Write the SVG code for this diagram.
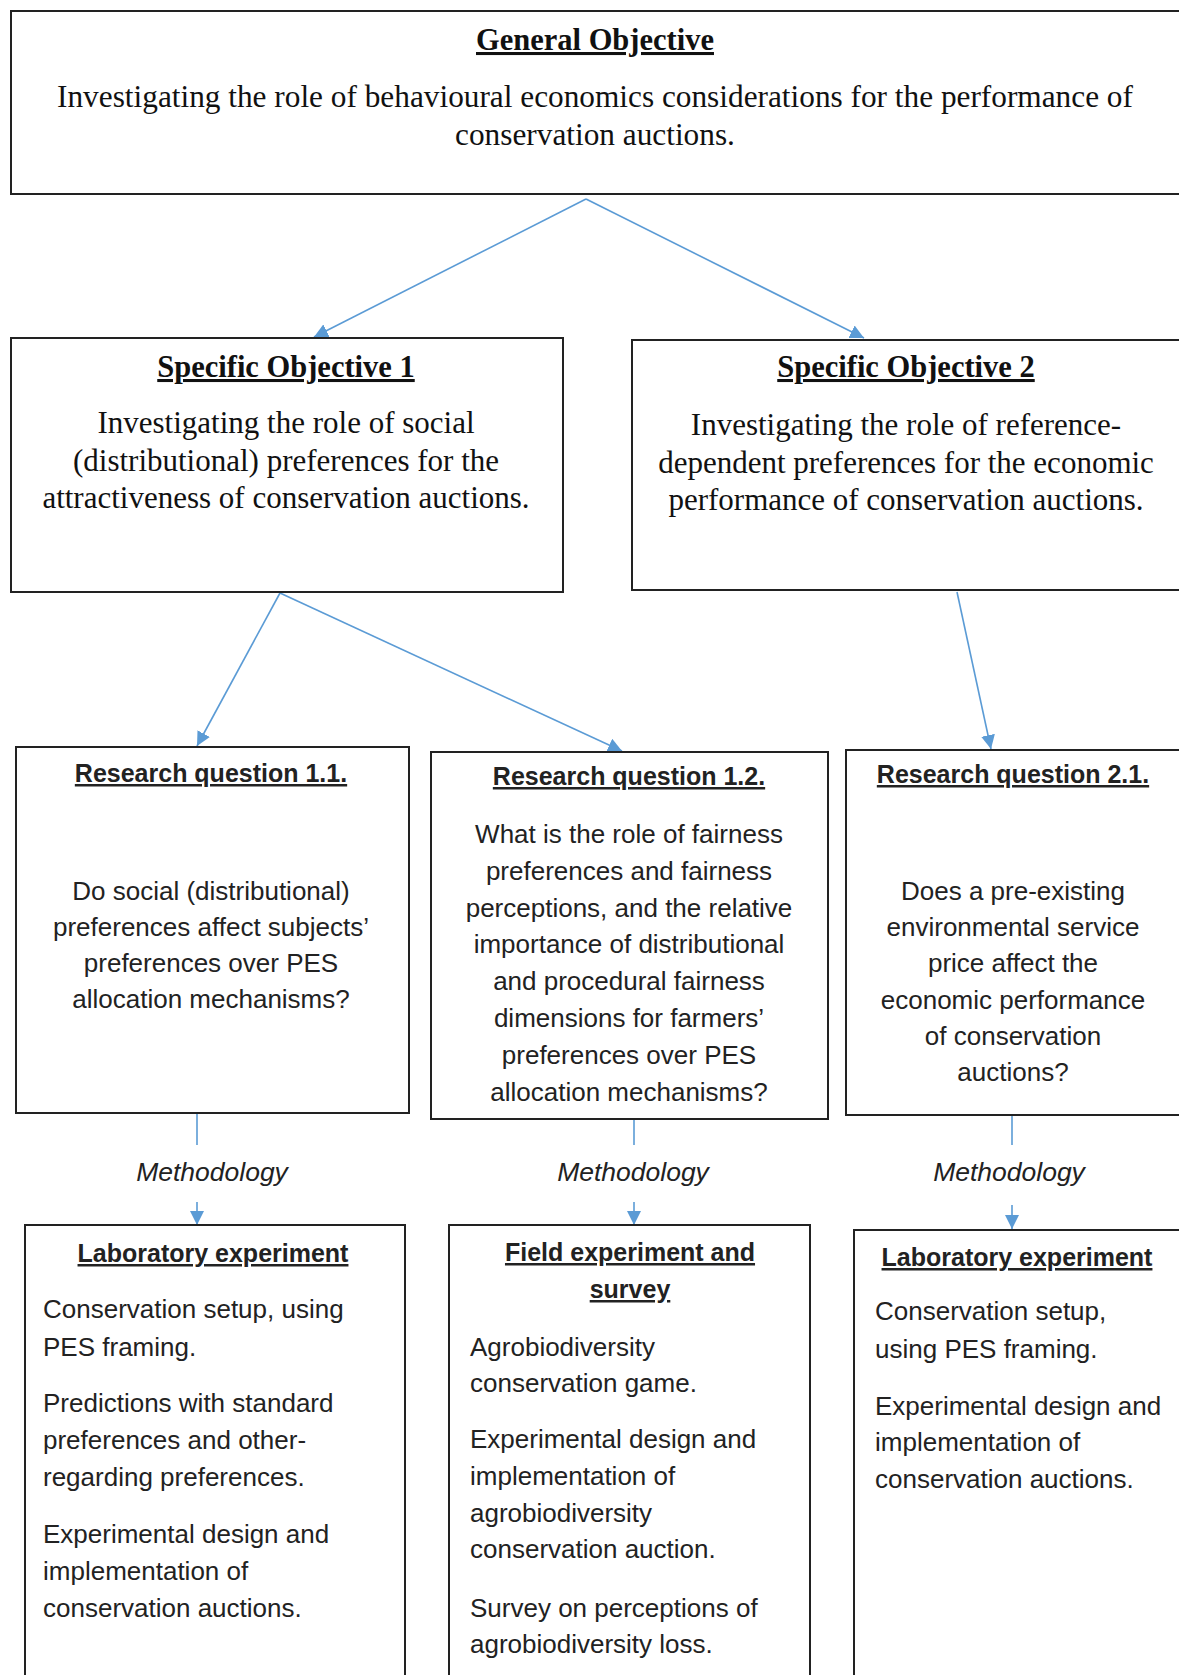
<svg xmlns="http://www.w3.org/2000/svg" width="1179" height="1675" viewBox="0 0 1179 1675">
<defs>
<marker id="ah" markerUnits="userSpaceOnUse" markerWidth="16" markerHeight="14" refX="14" refY="7" orient="auto">
<path d="M0,0 L14,7 L0,14 z" fill="#5B9BD5"/>
</marker>
<style>
.box{fill:#fff;stroke:#222;stroke-width:2}
.con{stroke:#5B9BD5;stroke-width:1.6;fill:none}
.arr{marker-end:url(#ah)}
.st{font-family:"Liberation Serif","Times New Roman",serif;font-size:31px;fill:#111;text-anchor:middle}
.stw{font-size:31.3px}
.sth{font-family:"Liberation Serif","Times New Roman",serif;font-size:30.5px;font-weight:bold;fill:#111;text-anchor:middle;text-decoration:underline}
.ss{font-family:"Liberation Sans",Arial,sans-serif;font-size:26px;fill:#222}
.ssc{text-anchor:middle}
.ssh{font-family:"Liberation Sans",Arial,sans-serif;font-size:25px;font-weight:bold;fill:#222;text-anchor:middle;text-decoration:underline}
.meth{font-family:"Liberation Sans",Arial,sans-serif;font-size:26.5px;font-style:italic;fill:#222;text-anchor:middle}
</style>
</defs>

<g id="connectors">
<line class="con arr" x1="586" y1="199" x2="314" y2="337"/>
<line class="con arr" x1="586" y1="199" x2="864" y2="338"/>
<line class="con arr" x1="280" y1="593" x2="197" y2="746"/>
<line class="con arr" x1="280" y1="593" x2="622" y2="751"/>
<line class="con arr" x1="957" y1="592" x2="991" y2="749"/>
<line class="con" x1="197" y1="1113" x2="197" y2="1145"/>
<line class="con arr" x1="197" y1="1202" x2="197" y2="1225"/>
<line class="con" x1="634" y1="1119" x2="634" y2="1145"/>
<line class="con arr" x1="634" y1="1202" x2="634" y2="1225"/>
<line class="con" x1="1012" y1="1115" x2="1012" y2="1145"/>
<line class="con arr" x1="1012" y1="1205" x2="1012" y2="1229"/>
<text class="meth" x="212" y="1181">Methodology</text>
<text class="meth" x="633" y="1181">Methodology</text>
<text class="meth" x="1009" y="1181">Methodology</text>
</g>

<g id="general-objective">
<rect class="box" x="11" y="11" width="1172" height="183"/>
<text class="sth" x="595" y="50">General Objective</text>
<text class="st stw" x="595" y="107">Investigating the role of behavioural economics considerations for the performance of</text>
<text class="st stw" x="595" y="145">conservation auctions.</text>
</g>

<g id="specific-objective-1">
<rect class="box" x="11" y="338" width="552" height="254"/>
<text class="sth" x="286" y="377">Specific Objective 1</text>
<text class="st" x="286" y="433">Investigating the role of social</text>
<text class="st" x="286" y="471">(distributional) preferences for the</text>
<text class="st" x="286" y="508">attractiveness of conservation auctions.</text>
</g>

<g id="specific-objective-2">
<rect class="box" x="632" y="340" width="551" height="250"/>
<text class="sth" x="906" y="377">Specific Objective 2</text>
<text class="st" x="906" y="435">Investigating the role of reference-</text>
<text class="st" x="906" y="473">dependent preferences for the economic</text>
<text class="st" x="906" y="510">performance of conservation auctions.</text>
</g>

<g id="research-question-1-1">
<rect class="box" x="16" y="747" width="393" height="366"/>
<text class="ssh" x="211" y="782">Research question 1.1.</text>
<text class="ss ssc" x="211" y="900">Do social (distributional)</text>
<text class="ss ssc" x="211" y="936">preferences affect subjects’</text>
<text class="ss ssc" x="211" y="972">preferences over PES</text>
<text class="ss ssc" x="211" y="1008">allocation mechanisms?</text>
</g>

<g id="research-question-1-2">
<rect class="box" x="431" y="752" width="397" height="367"/>
<text class="ssh" x="629" y="785">Research question 1.2.</text>
<text class="ss ssc" x="629" y="843">What is the role of fairness</text>
<text class="ss ssc" x="629" y="880">preferences and fairness</text>
<text class="ss ssc" x="629" y="917">perceptions, and the relative</text>
<text class="ss ssc" x="629" y="953">importance of distributional</text>
<text class="ss ssc" x="629" y="990">and procedural fairness</text>
<text class="ss ssc" x="629" y="1027">dimensions for farmers’</text>
<text class="ss ssc" x="629" y="1064">preferences over PES</text>
<text class="ss ssc" x="629" y="1101">allocation mechanisms?</text>
</g>

<g id="research-question-2-1">
<rect class="box" x="846" y="750" width="337" height="365"/>
<text class="ssh" x="1013" y="783">Research question 2.1.</text>
<text class="ss ssc" x="1013" y="900">Does a pre-existing</text>
<text class="ss ssc" x="1013" y="936">environmental service</text>
<text class="ss ssc" x="1013" y="972">price affect the</text>
<text class="ss ssc" x="1013" y="1009">economic performance</text>
<text class="ss ssc" x="1013" y="1045">of conservation</text>
<text class="ss ssc" x="1013" y="1081">auctions?</text>
</g>

<g id="laboratory-experiment-1">
<rect class="box" x="25" y="1225" width="380" height="460"/>
<text class="ssh" x="213" y="1262">Laboratory experiment</text>
<text class="ss" x="43" y="1318">Conservation setup, using</text>
<text class="ss" x="43" y="1356">PES framing.</text>
<text class="ss" x="43" y="1412">Predictions with standard</text>
<text class="ss" x="43" y="1449">preferences and other-</text>
<text class="ss" x="43" y="1486">regarding preferences.</text>
<text class="ss" x="43" y="1543">Experimental design and</text>
<text class="ss" x="43" y="1580">implementation of</text>
<text class="ss" x="43" y="1617">conservation auctions.</text>
</g>

<g id="field-experiment-survey">
<rect class="box" x="449" y="1225" width="361" height="460"/>
<text class="ssh" x="630" y="1261">Field experiment and</text>
<text class="ssh" x="630" y="1298">survey</text>
<text class="ss" x="470" y="1356">Agrobiodiversity</text>
<text class="ss" x="470" y="1392">conservation game.</text>
<text class="ss" x="470" y="1448">Experimental design and</text>
<text class="ss" x="470" y="1485">implementation of</text>
<text class="ss" x="470" y="1522">agrobiodiversity</text>
<text class="ss" x="470" y="1558">conservation auction.</text>
<text class="ss" x="470" y="1617">Survey on perceptions of</text>
<text class="ss" x="470" y="1653">agrobiodiversity loss.</text>
</g>

<g id="laboratory-experiment-2">
<rect class="box" x="854" y="1230" width="329" height="455"/>
<text class="ssh" x="1017" y="1266">Laboratory experiment</text>
<text class="ss" x="875" y="1320">Conservation setup,</text>
<text class="ss" x="875" y="1358">using PES framing.</text>
<text class="ss" x="875" y="1415">Experimental design and</text>
<text class="ss" x="875" y="1451">implementation of</text>
<text class="ss" x="875" y="1488">conservation auctions.</text>
</g>
</svg>
